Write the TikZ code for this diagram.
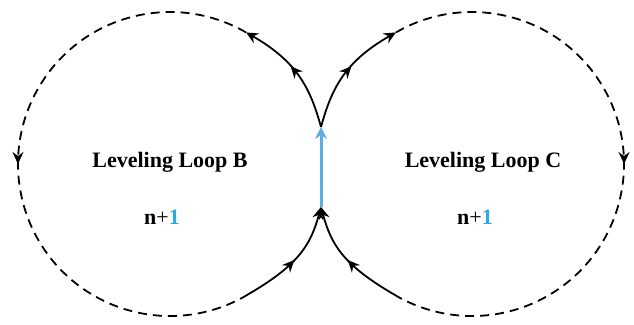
\documentclass[tikz,border=0pt]{standalone}
\usepackage{fontspec}
\setmainfont{Liberation Serif}
\usetikzlibrary{arrows.meta,decorations.markings}
\definecolor{flowblue}{RGB}{93,173,226}
\definecolor{numblue}{RGB}{41,171,226}
\tikzset{
  flow/.style={line width=1.8pt, black},
  endtip/.style={-{Stealth[length=12pt,width=11pt,inset=4pt]}},
  midtip/.style={decoration={markings, mark=at position #1 with {\arrow{Stealth[length=12pt,width=11pt,inset=4pt]}}}, postaction={decorate}},
  loopdash/.style={flow, dash pattern=on 9pt off 6pt},
  lbl/.style={font=\fontsize{22}{26}\selectfont\bfseries, inner sep=0pt},
}
\begin{document}
\begin{tikzpicture}[x=1pt,y=1pt]
\useasboundingbox (0,0) rectangle (634,324);
\coordinate (jt) at (321,197);
\coordinate (jb) at (321,117);
\coordinate (pl60) at (246,291.6);
\coordinate (pl300) at (246,28.4);
\coordinate (pr120) at (396,291.6);
\coordinate (pr240) at (396,28.4);
% dashed loops
\draw[loopdash, midtip=0.5] (pl60) arc[start angle=60, end angle=300, radius=152];
\draw[loopdash, midtip=0.5] (pr120) arc[start angle=120, end angle=-120, radius=152];
% blue transfer
\draw[line width=3pt, flowblue, -{Stealth[length=12pt,width=12pt,inset=4pt]}] (jb) -- (jt);
% solid branches
\draw[flow, endtip, midtip=0.55] (jt) .. controls (310.6,234.6) and (298,262) .. (pl60);
\draw[flow, endtip, midtip=0.55] (jt) .. controls (331.4,234.6) and (344,262) .. (pr120);
\draw[flow, endtip, midtip=0.5] (pl300) .. controls (298,58.4) and (310.6,78.4) .. (jb);
\draw[flow, endtip, midtip=0.5] (pr240) .. controls (344,58.4) and (331.4,78.4) .. (jb);
% labels
\node[lbl] (lblB) at (170,162) {Leveling Loop B};
\node[lbl] (nB) at (162,107) {n{\mdseries+}\textcolor{numblue}{1}};
\node[lbl] (lblC) at (483,162) {Leveling Loop C};
\node[lbl] (nC) at (475,107) {n{\mdseries+}\textcolor{numblue}{1}};
\end{tikzpicture}
\end{document}
